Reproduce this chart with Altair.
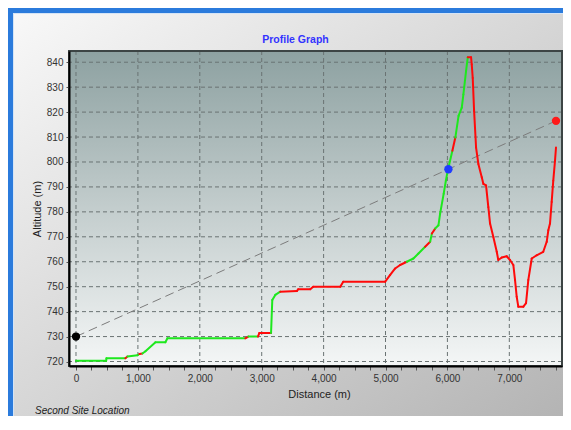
import altair as alt
import pandas as pd

# ---------------- data ----------------
dist = [0, 487, 492, 798, 831, 993, 1025, 1073, 1122, 1284, 1444, 1477, 2735, 2784,
        2940, 2961, 3151, 3171, 3220, 3300, 3570, 3591, 3784, 3832, 4269, 4317, 4995,
        5075, 5156, 5236, 5345, 5451, 5532, 5640, 5721, 5749, 5802, 5855, 5882, 5940,
        5975, 6005, 6080, 6128, 6180, 6232, 6258, 6301, 6329, 6382, 6393, 6409, 6431,
        6463, 6500, 6555, 6581, 6624, 6661, 6689, 6742, 6797, 6822, 6878, 6958, 7011,
        7065, 7092, 7119, 7145, 7227, 7270, 7307, 7362, 7442, 7548, 7604, 7630, 7657,
        7684, 7710, 7738, 7754]
altitude = [720.3, 720.3, 721.3, 721.3, 722.0, 722.5, 723.0, 723.2, 724.1, 727.7, 727.7,
            729.3, 729.3, 730.0, 730.0, 731.4, 731.4, 744.7, 746.7, 748.0, 748.3, 749.0,
            749.0, 750.0, 750.0, 752.0, 752.0, 754.7, 757.3, 758.7, 760.0, 761.3, 763.3,
            766.0, 768.0, 771.3, 773.3, 774.6, 779.3, 787.3, 792.5, 796.5, 804.5, 809.8,
            818.5, 821.8, 827.1, 836.4, 842.0, 842.0, 839.1, 833.7, 820.5, 805.8, 799.2,
            793.9, 791.2, 790.6, 781.9, 775.3, 769.9, 764.0, 760.7, 761.7, 762.2, 760.7,
            758.7, 752.7, 746.0, 742.0, 742.0, 743.4, 752.7, 761.3, 762.6, 764.0, 768.0,
            772.6, 775.3, 784.0, 792.5, 800.5, 805.8]
G, R = "clear", "blocked"
# state of the segment that leaves each point (last entry unused)
state = [G, G, G, R, G, G, R, G, G, G,   # points 0-9
         G, G, R, G, R, R, G, G, G, R,   # points 10-19
         R, R, R, R, R, R, R, R, R, R,   # points 20-29
         G, G, G, R, G, R, G, G, G, G,   # points 30-39
         G, G, R, G, G, G, G, G, R, R,   # points 40-49
         R, R, R, R, R, R, R, R, R, R,   # points 50-59
         R, R, R, R, R, R, R, R, R, R,   # points 60-69
         R, R, R, R, R, R, R, R, R, R,   # points 70-79
         R, R, R]                        # points 80-82

site_d = [0, 6016, 7754]
site_a = [730.0, 797.1, 816.5]
site_c = ["#000000", "#1f3cff", "#ff1a1a"]

x_ticks = list(range(0, 7751, 250))
x_grid = list(range(0, 7001, 1000))
y_ticks = list(range(720, 841, 10))

title_text = "Profile Graph"
foot_text = "Second Site Location"

# ---------------- layout ----------------
W, H = 493, 315
PAD = {"left": 61, "top": 43, "right": 1, "bottom": 50}

xs = alt.Scale(domain=[-113, 7851], nice=False, zero=False)
ys = alt.Scale(domain=[718.2, 844.5], nice=False, zero=False)

FONT = "Liberation Sans"
x_axis = alt.Axis(values=x_ticks,
                  labelExpr="datum.value % 1000 === 0 ? format(datum.value, ',') : ''",
                  grid=False, tickSize=4, tickColor="#555555", domainColor="#000000",
                  domainWidth=2, labelColor="#333333", labelFont=FONT, labelFontSize=10,
                  labelPadding=3, labelOverlap=False, labelFlush=False,
                  title="Distance (m)", titleFont=FONT, titleFontSize=11,
                  titleFontWeight="normal", titleColor="#222222", titleX=250, titleY=28,
                  titleBaseline="middle", zindex=1)
y_axis = alt.Axis(values=y_ticks, grid=False, tickSize=3, tickColor="#555555",
                  domainColor="#000000", domainWidth=2, labelColor="#333333",
                  labelFont=FONT, labelFontSize=10, labelPadding=3, labelOverlap=False,
                  title="Altitude (m)", titleFont=FONT, titleFontSize=11,
                  titleFontWeight="normal", titleColor="#222222", titleX=-32,
                  titleY=157.5, titleBaseline="middle", titleAlign="center", zindex=1)

one = pd.DataFrame({"k": [0]})

panel_grad = alt.LinearGradient(gradient="linear", x1=0, y1=0, x2=1, y2=1,
                                stops=[alt.GradientStop(color="#f8f8f8", offset=0),
                                       alt.GradientStop(color="#b4b4b4", offset=1)])
plot_grad = alt.LinearGradient(gradient="linear", x1=0, y1=0, x2=0, y2=1,
                               stops=[alt.GradientStop(color="#8da1a1", offset=0),
                                      alt.GradientStop(color="#c3cdcd", offset=0.5),
                                      alt.GradientStop(color="#f4f6f6", offset=1)])

L = -PAD["left"]
T = -PAD["top"]
RGT = W + PAD["right"]
BOT = H + PAD["bottom"]

panel = alt.Chart(one).mark_rect(fill=panel_grad).encode(
    x=alt.value(L + 6), x2=alt.value(RGT), y=alt.value(T + 6), y2=alt.value(BOT))
frame_light = alt.Chart(one).mark_rect(color="#d4e4f6").encode(
    x=alt.value(L + 5), x2=alt.value(RGT), y=alt.value(T + 5), y2=alt.value(BOT))
frame_blue = alt.Chart(one).mark_rect(color="#2b7bdc").encode(
    x=alt.value(L), x2=alt.value(RGT), y=alt.value(T), y2=alt.value(BOT))
plot_bg = alt.Chart(one).mark_rect(fill=plot_grad).encode(
    x=alt.value(0), x2=alt.value(W), y=alt.value(0), y2=alt.value(H))

gx = alt.Chart(pd.DataFrame({"gx": x_grid})).mark_rule(
    color="#6a7373", strokeWidth=1, strokeDash=[4, 3]).encode(
    x=alt.X("gx:Q", scale=xs, axis=x_axis))
gy = alt.Chart(pd.DataFrame({"gy": y_ticks})).mark_rule(
    color="#6a7373", strokeWidth=1, strokeDash=[4, 3]).encode(
    y=alt.Y("gy:Q", scale=ys, axis=y_axis))

los = alt.Chart(pd.DataFrame({"d": [site_d[0]], "a": [site_a[0]],
                              "d2": [site_d[-1]], "a2": [site_a[-1]]})).mark_rule(
    color="#7c7c7c", strokeWidth=1, strokeDash=[9, 5]).encode(
    x=alt.X("d:Q", scale=xs, axis=x_axis), y=alt.Y("a:Q", scale=ys, axis=y_axis),
    x2="d2:Q", y2="a2:Q")

seg = pd.DataFrame({"x": dist[:-1], "y": altitude[:-1], "x2": dist[1:],
                    "y2": altitude[1:], "status": state[:len(dist) - 1]})
profile = alt.Chart(seg).mark_rule(strokeWidth=2, strokeCap="round").encode(
    x=alt.X("x:Q", scale=xs, axis=x_axis), y=alt.Y("y:Q", scale=ys, axis=y_axis),
    x2="x2:Q", y2="y2:Q",
    color=alt.Color("status:N", scale=alt.Scale(domain=[G, R],
                                                range=["#1ee81e", "#ff0a0a"]),
                    legend=None))

dots = alt.Chart(pd.DataFrame({"d": site_d, "a": site_a, "c": site_c})).mark_circle(
    size=70, opacity=1).encode(
    x=alt.X("d:Q", scale=xs, axis=x_axis), y=alt.Y("a:Q", scale=ys, axis=y_axis),
    color=alt.Color("c:N", scale=None))

border = alt.Chart(one).mark_rect(fillOpacity=0, stroke="#3c4444", strokeWidth=2).encode(
    x=alt.value(0), x2=alt.value(W), y=alt.value(0), y2=alt.value(H))

title = alt.Chart(pd.DataFrame({"t": [title_text]})).mark_text(
    font=FONT, fontSize=10.5, fontWeight="bold", color="#3333ff",
    align="center", baseline="middle").encode(
    text="t:N", x=alt.value(226.5), y=alt.value(-11.5))
foot = alt.Chart(pd.DataFrame({"t": [foot_text]})).mark_text(
    font=FONT, fontSize=10, fontStyle="italic", color="#222222",
    align="left", baseline="middle").encode(
    text="t:N", x=alt.value(-34), y=alt.value(359.5))

chart = alt.layer(frame_blue, frame_light, panel, plot_bg, gx, gy, los, profile, dots,
                  border, title, foot).properties(
    width=W, height=H, autosize=alt.AutoSizeParams(type="none"), padding=PAD,
    background="#ffffff").configure_view(stroke=None)

chart.save("out.html", embed_options={"renderer": "svg", "actions": False})
